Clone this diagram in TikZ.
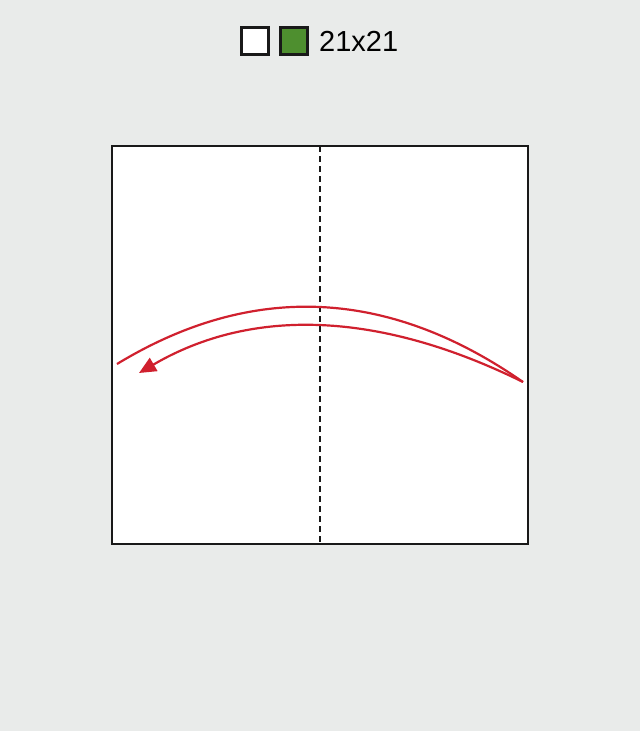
\documentclass[tikz,border=0pt]{standalone}
\usepackage{fontspec}
\setmainfont{Liberation Sans}
\usetikzlibrary{arrows.meta}
\definecolor{bg}{HTML}{E9EBEA}
\definecolor{foldred}{HTML}{D0202E}
\definecolor{leafgreen}{HTML}{4E8F2F}
\tikzset{
  paper/.style={draw=black!90, line width=2pt, fill=white},
  icon/.style={draw=black!90, line width=3pt, minimum width=27pt, minimum height=27pt, inner sep=0pt},
  foldline/.style={black!90, line width=2pt, dash pattern=on 6pt off 4pt},
  movearrow/.style={foldred, line width=2.2pt},
}
\begin{document}
\begin{tikzpicture}[x=1pt,y=-1pt]
\fill[bg] (0,0) rectangle (640,731);
\useasboundingbox (0,0) rectangle (640,731);
% icons
\node[icon, fill=white] (white) at (254.5,40.5) {};
\node[icon, fill=leafgreen] (green) at (294,40.5) {};
\node[anchor=west, font=\fontsize{29}{32}\selectfont, inner sep=0pt] (size) at (319,41) {21x21};
% paper
\draw[paper] (112,146) rectangle (528,544);
\coordinate (ftop) at (320,146);
\coordinate (fbot) at (320,544);
\draw[foldline] (ftop) -- (fbot);
% arrow
\coordinate (aL) at (117,364);
\coordinate (aR) at (523,382);
\coordinate (aT) at (139,373);
\draw[movearrow] (aL) .. controls (252,282) and (388,288) .. (aR);
\draw[movearrow, -{Triangle[length=17pt,width=15pt]}] (aR) .. controls (379,311) and (252,307) .. (aT);
\end{tikzpicture}
\end{document}
